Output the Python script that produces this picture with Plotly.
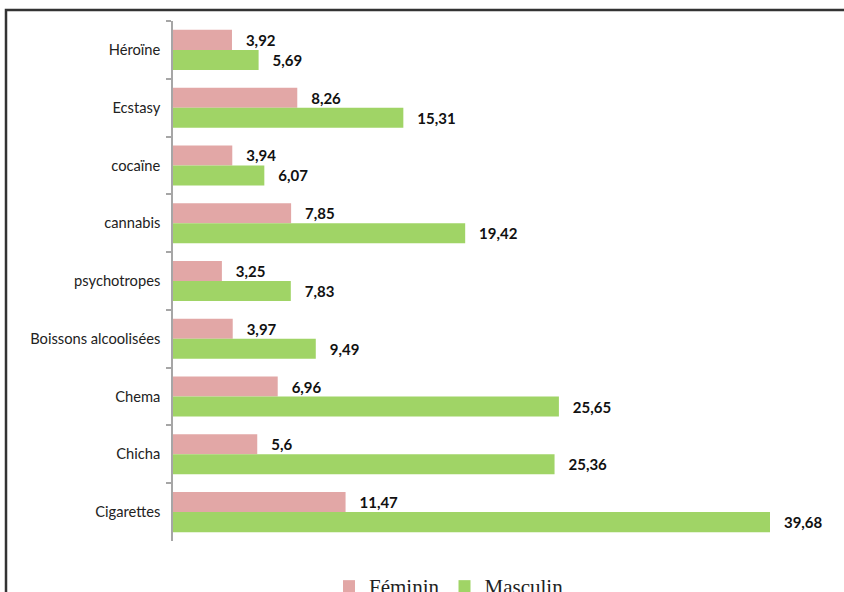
import plotly.graph_objects as go

categories = ["Héroïne", "Ecstasy", "cocaïne", "cannabis", "psychotropes",
              "Boissons alcoolisées", "Chema", "Chicha", "Cigarettes"]
feminin = [3.92, 8.26, 3.94, 7.85, 3.25, 3.97, 6.96, 5.6, 11.47]
masculin = [5.69, 15.31, 6.07, 19.42, 7.83, 9.49, 25.65, 25.36, 39.68]

def fmt(v):
    return "   " + str(v).replace(".", ",")

W, H = 844, 592
ml, mr, mt, mb = 173, 9, 21, 51
pw = W - ml - mr
ph = H - mt - mb

label_font = dict(family="Lato", size=15, color="#111111", weight="bold")

fig = go.Figure()
fig.add_trace(go.Bar(
    y=categories, x=feminin, orientation="h", name="Féminin",
    marker=dict(color="#E2A7A6", line=dict(width=0)),
    text=[fmt(v) for v in feminin], textposition="outside",
    textfont=label_font, cliponaxis=False,
))
fig.add_trace(go.Bar(
    y=categories, x=masculin, orientation="h", name="Masculin",
    marker=dict(color="#A0D466", line=dict(width=0)),
    text=[fmt(v) for v in masculin], textposition="outside",
    textfont=label_font, cliponaxis=False,
))

xmax = pw / (597 / 39.68)

fig.update_layout(
    width=W, height=H,
    margin=dict(l=ml, r=mr, t=mt, b=mb, autoexpand=False),
    paper_bgcolor="white", plot_bgcolor="white",
    barmode="group", bargap=0.307, bargroupgap=0,
    showlegend=True,
    legend=dict(orientation="h", xref="container", x=449 / W, xanchor="center",
                yref="container", y=(H - 566) / H, yanchor="top",
                font=dict(family="Liberation Serif", size=21, color="#222222"),
                itemwidth=30, tracegroupgap=0, bgcolor="rgba(0,0,0,0)"),
    xaxis=dict(range=[0, xmax], visible=False, showgrid=False, zeroline=False),
    yaxis=dict(autorange="reversed", type="category", showgrid=False,
               showline=True, linecolor="#A6A6A6", linewidth=1.5,
               ticks="outside", ticklen=5, tickcolor="#A6A6A6", tickwidth=1.5,
               tickson="boundaries", ticklabelstandoff=8,
               tickfont=dict(family="Lato", size=14.7, color="#222222")),
)

# outer chart frame
fig.add_shape(type="rect", xref="paper", yref="paper",
              x0=(6 - ml) / pw, x1=1.2, y0=-0.3, y1=1 + (mt - 10) / ph,
              line=dict(color="#333333", width=2.5), fillcolor="rgba(0,0,0,0)",
              layer="below")

fig.write_html("out.html", config={"displayModeBar": False},
               post_script="document.body.style.margin='0';document.body.style.overflow='hidden';")
